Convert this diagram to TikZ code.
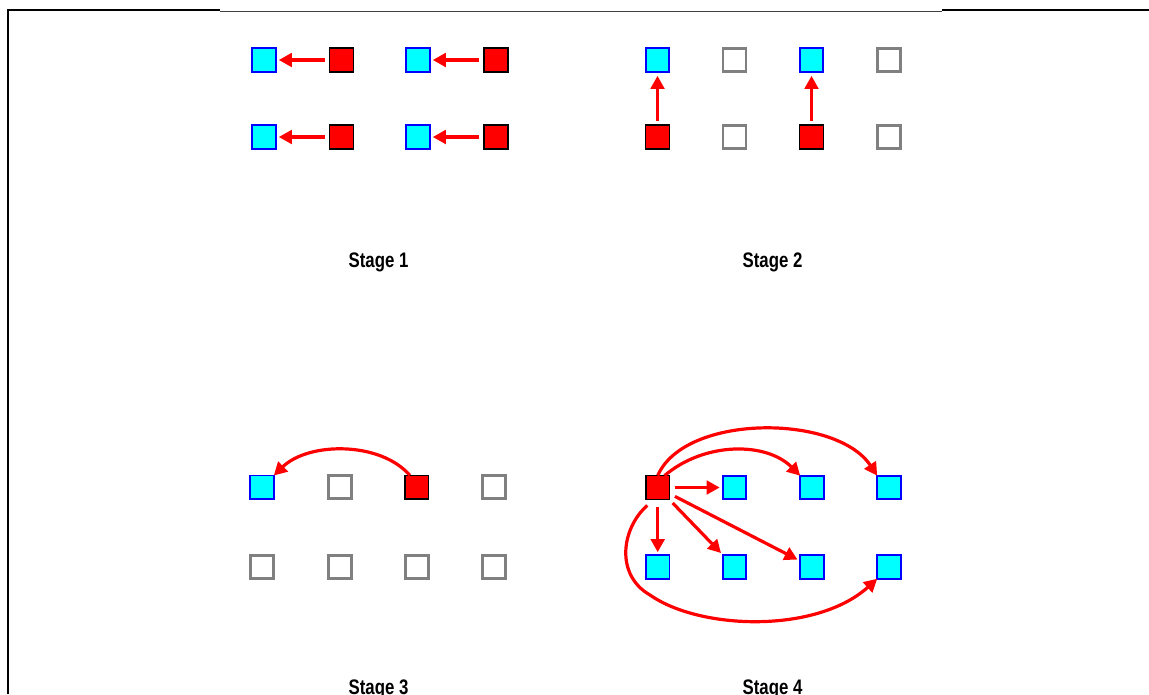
\documentclass[tikz,border=0pt]{standalone}
\usepackage{fontspec}
\usepackage{graphicx}
\setmainfont{Liberation Sans}
\usetikzlibrary{arrows.meta,calc}
\definecolor{sqcyan}{RGB}{0,255,255}
\definecolor{sqblue}{RGB}{0,0,255}
\definecolor{sqred}{RGB}{255,0,0}
\definecolor{sqgray}{RGB}{128,128,128}
\tikzset{
  sqbase/.style={rectangle, inner sep=0pt, outer sep=0pt},
  cy/.style={sqbase, minimum size=23.6pt, fill=sqcyan, draw=sqblue, line width=1.7pt},
  rd/.style={sqbase, minimum size=23.8pt, fill=sqred, draw=black, line width=1.5pt},
  gy/.style={sqbase, minimum size=23pt, fill=white, draw=sqgray, line width=2.8pt},
  arr/.style={draw=sqred, line width=3.2pt, -{Triangle[length=13pt,width=13.5pt]}},
  lab/.style={anchor=base, inner sep=0pt, font=\fontsize{21}{25}\selectfont\bfseries}
}
\begin{document}
\begin{tikzpicture}[x=1pt,y=-1pt]
\useasboundingbox (0,0) rectangle (1149,694);
% frame
\draw[line width=2.3pt] (8,694) -- (8,10.3) -- (220,10.3);
\draw[line width=1.5pt, black!75] (220,11.3) -- (942,11.3);
\draw[line width=2pt] (942,10.3) -- (1149,10.3);

% Stage 1
\node[cy] (a1) at (264,60) {};
\node[rd] (a2) at (341.5,60) {};
\node[cy] (a3) at (418,60) {};
\node[rd] (a4) at (496,60) {};
\node[cy] (a5) at (264,137) {};
\node[rd] (a6) at (341.5,137) {};
\node[cy] (a7) at (418,137) {};
\node[rd] (a8) at (496,137) {};
\draw[arr, shorten <=5pt, shorten >=3pt] (a2) -- (a1);
\draw[arr, shorten <=5pt, shorten >=3pt] (a4) -- (a3);
\draw[arr, shorten <=5pt, shorten >=3pt] (a6) -- (a5);
\draw[arr, shorten <=5pt, shorten >=3pt] (a8) -- (a7);
\node[lab] (l1) at (378.5,267.7) {\scalebox{0.8}[1]{Stage 1}};

% Stage 2
\node[cy] (b1) at (657.5,60) {};
\node[gy] (b2) at (734.5,60) {};
\node[cy] (b3) at (811.5,60) {};
\node[gy] (b4) at (889,60) {};
\node[rd] (b5) at (657.5,137) {};
\node[gy] (b6) at (734.5,137) {};
\node[rd] (b7) at (811.5,137) {};
\node[gy] (b8) at (889,137) {};
\draw[arr, shorten <=4pt, shorten >=4pt] (b5) -- (b1);
\draw[arr, shorten <=4pt, shorten >=4pt] (b7) -- (b3);
\node[lab] (l2) at (772.5,267.7) {\scalebox{0.8}[1]{Stage 2}};

% Stage 3
\node[cy] (c1) at (262,487.3) {};
\node[gy] (c2) at (339.7,487.3) {};
\node[rd] (c3) at (416.7,487.3) {};
\node[gy] (c4) at (493.7,487.3) {};
\node[gy] (c5) at (262,567) {};
\node[gy] (c6) at (339.7,567) {};
\node[gy] (c7) at (416.7,567) {};
\node[gy] (c8) at (493.7,567) {};
\draw[arr] (c3.120) .. controls +(-29,-34) and +(35,-34) .. (c1.north east);
\node[lab] (l3) at (378.5,694.6) {\scalebox{0.8}[1]{Stage 3}};

% Stage 4
\node[rd] (d1) at (657.7,487.5) {};
\node[cy] (d2) at (734.5,487.5) {};
\node[cy] (d3) at (812,487.5) {};
\node[cy] (d4) at (889,487.5) {};
\node[cy] (d5) at (657.7,567) {};
\node[cy] (d6) at (734.5,567) {};
\node[cy] (d7) at (812,567) {};
\node[cy] (d8) at (889,567) {};
\draw[arr, shorten <=5pt, shorten >=3pt] (d1) -- (d2);
\draw[arr, shorten <=7.5pt, shorten >=3pt] (d1) -- (d5);
\draw[arr, shorten <=5pt, shorten >=3pt] (d1) -- (d6);
\draw[arr, shorten <=6pt, shorten >=3pt] (d1) -- (d7);
\draw[arr] (d1.60) .. controls +(40,-34) and +(-34,-34) .. (d3.north west);
\draw[arr] (d1.north) .. controls +(27,-62) and +(-41,-62) .. (d4.north west);
\coordinate (d1s) at ($(d1.south west)+(1.5,6)$);
\coordinate (m4) at (650,595);
\draw[arr] (d1s) .. controls +(-26,23) and +(-35,-20) .. (m4)
  .. controls +(50,35) and +(-61,55) .. (d8.south west);
\node[lab] (l4) at (772.5,694.6) {\scalebox{0.8}[1]{Stage 4}};
\end{tikzpicture}
\end{document}
